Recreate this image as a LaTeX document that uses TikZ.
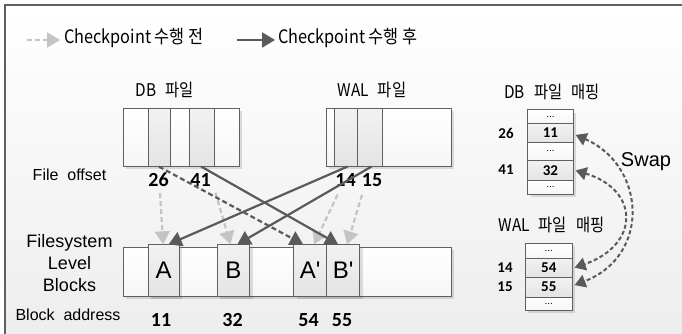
\documentclass[tikz,border=0pt]{standalone}
\usepackage{fontspec}
\setmainfont{Liberation Sans}
\newfontfamily\kr[FakeStretch=0.88]{Noto Sans CJK KR}
\newfontfamily\num{Carlito}
\usetikzlibrary{arrows.meta,shadows}
\definecolor{dk}{HTML}{5A5A5A}
\definecolor{lt}{HTML}{C4C4C4}
\definecolor{edge}{HTML}{606060}
\definecolor{bgb}{HTML}{EDEDED}
\definecolor{cg}{HTML}{E4E4E4}
\definecolor{cw}{HTML}{F6F6F6}
\tikzset{
  box/.style={draw=edge, line width=0.9pt, inner sep=0pt, anchor=north west},
  wcell/.style={box, top color=white, bottom color=cw},
  gcell/.style={box, top color=cg!50!white, bottom color=cg},
  shad/.style={drop shadow={shadow xshift=3pt, shadow yshift=-3pt, fill=black, opacity=0.12}},
  darr/.style={draw=dk, line width=2.2pt, -{Triangle[length=13pt,width=15pt]}},
  ddarr/.style={darr, dash pattern=on 5pt off 3pt},
  larr/.style={draw=lt, line width=2.2pt, dash pattern=on 5pt off 3pt, -{Triangle[length=13pt,width=15pt]}},
  swp/.style={draw=dk, line width=2pt, dash pattern=on 4pt off 2.5pt, {Triangle[length=11pt,width=13pt]}-{Triangle[length=11pt,width=13pt]}},
  bnum/.style={font=\num\bfseries\fontsize{20}{20}\selectfont, inner sep=0pt},
  snum/.style={font=\num\bfseries\fontsize{15}{15}\selectfont, inner sep=0pt},
  dots/.style={font=\fontsize{10}{10}\selectfont},
  lbl/.style={font=\kr\fontsize{17.5}{17.5}\selectfont, inner sep=0pt},
  leg/.style={font=\kr\fontsize{18.5}{18.5}\selectfont, inner sep=0pt, anchor=west},
  eng/.style={font=\fontsize{16}{16}\selectfont, inner sep=0pt},
  blk/.style={font=\fontsize{24}{24}\selectfont},
}
\newcommand\gap{\hspace{9pt}}
\begin{document}
\begin{tikzpicture}[x=1pt,y=-1pt]
\useasboundingbox (0,0) rectangle (682,334);
\fill[white] (0,0) rectangle (682,334);
\shade[top color=white, bottom color=bgb] (5,5) rectangle (690,340);
\draw[edge, line width=1.4pt] (5,340) -- (5,5) -- (690,5);

% legend
\coordinate (l1s) at (27,40);
\coordinate (l1e) at (60,40);
\draw[larr] (l1s) -- (l1e);
\node[leg] (leg1) at (64,38) {Checkpoint 수행 전};
\coordinate (l2s) at (237,40);
\coordinate (l2e) at (275,40);
\draw[darr] (l2s) -- (l2e);
\node[leg] (leg2) at (278,38) {Checkpoint 수행 후};

% titles
\node[lbl] (dbt) at (165,90) {DB\gap 파일};
\node[lbl] (walt) at (372,90) {WAL\gap 파일};

% DB file
\node[box, shad, fill=white, minimum width=116.3pt, minimum height=58pt] (dbbox) at (122.7,107.7) {};
\node[wcell, minimum width=25pt, minimum height=58pt] (db1) at (122.7,107.7) {};
\node[gcell, minimum width=22.6pt, minimum height=58pt] (db2) at (147.7,107.7) {};
\node[wcell, minimum width=19pt, minimum height=58pt] (db3) at (170.3,107.7) {};
\node[gcell, minimum width=25pt, minimum height=58pt] (db4) at (189.3,107.7) {};
\node[wcell, minimum width=24.7pt, minimum height=58pt] (db5) at (214.3,107.7) {};

% WAL file
\node[box, shad, fill=white, minimum width=124.7pt, minimum height=58pt] (walbox) at (326,107.7) {};
\node[wcell, minimum width=8.3pt, minimum height=58pt] (w1) at (326,107.7) {};
\node[gcell, minimum width=22.4pt, minimum height=58pt] (w2) at (334.3,107.7) {};
\node[gcell, minimum width=25.6pt, minimum height=58pt] (w3) at (356.7,107.7) {};
\node[wcell, minimum width=68.4pt, minimum height=58pt] (w4) at (382.3,107.7) {};

% file offsets
\node[eng] (fo) at (69.5,175) {File\ \ offset};
\node[bnum] (o26) at (158.5,180) {26};
\node[bnum] (o41) at (200.5,180) {41};
\node[bnum] (o14) at (345.5,180) {14};
\node[bnum] (o15) at (372,180) {15};

% filesystem blocks
\node[align=center, font=\fontsize{18}{22}\selectfont, inner sep=0pt] (fsl) at (69.5,263) {Filesystem\\Level\\Blocks};
\node[wcell, shad, minimum width=328pt, minimum height=49.3pt] (fs) at (122.7,246.7) {};
\node[gcell, shad, blk, minimum width=31pt, minimum height=51.4pt] (bA) at (147.7,244.3) {A};
\node[gcell, shad, blk, minimum width=32.6pt, minimum height=51.4pt] (bB) at (216.7,244.3) {B};
\node[gcell, shad, blk, minimum width=32.7pt, minimum height=51.4pt] (bA2) at (293.3,244.3) {A\textquotesingle};
\node[gcell, shad, blk, minimum width=33.3pt, minimum height=51.4pt] (bB2) at (326,244.3) {B\textquotesingle};

\node[eng] (ba) at (68,315) {Block\ \ address};
\node[bnum] (a11) at (161,320) {11};
\node[bnum] (a32) at (232.5,320) {32};
\node[bnum] (a54) at (308.5,320) {54};
\node[bnum] (a55) at (342,320) {55};

% before-checkpoint arrows (light)
\draw[larr] ([xshift=1.5pt,yshift=-6pt]o26.south) -- ([xshift=-0.5pt]bA.north);
\draw[larr] ([xshift=15pt,yshift=-6pt]o41.south) -- ([xshift=-3pt]bB.north);
\draw[larr] ([xshift=-8pt,yshift=-8pt]o14.south) -- ([xshift=4pt]bA2.north);
\draw[larr] ([xshift=-10pt,yshift=-8pt]o15.south) -- ([xshift=4pt]bB2.north);

% after-checkpoint arrows (dark)
\draw[ddarr] ([xshift=-0.5pt]db2.south) -- ([xshift=-7pt]bA2.north);
\draw[darr] ([xshift=-1pt]db4.south) -- ([xshift=-5pt]bB2.north);
\draw[darr] ([xshift=1.5pt]w2.south) -- ([xshift=5pt]bA.north);
\draw[darr] ([xshift=1.5pt]w3.south) -- ([xshift=4pt]bB.north);

% mapping tables
\node[lbl] (dbm) at (552,92) {DB\gap 파일\gap 매핑};
\node[box, shad, fill=white, minimum width=45.4pt, minimum height=84.7pt] (dbmt) at (527.3,109.3) {};
\node[wcell, dots, minimum width=45.4pt, minimum height=14pt] (r1) at (527.3,109.3) {...};
\node[gcell, snum, minimum width=45.4pt, minimum height=18.4pt] (m11) at (527.3,123.3) {11};
\node[wcell, dots, minimum width=45.4pt, minimum height=18.3pt] (r3) at (527.3,141.7) {...};
\node[gcell, snum, minimum width=45.4pt, minimum height=20pt] (m32) at (527.3,160) {32};
\node[wcell, dots, minimum width=45.4pt, minimum height=14pt] (r5) at (527.3,180) {...};
\node[snum] (p26) at (506,133) {26};
\node[snum] (p41) at (506,170) {41};

\node[lbl] (walm) at (551.5,225) {WAL\gap 파일\gap 매핑};
\node[box, shad, fill=white, minimum width=46.7pt, minimum height=67.3pt] (walmt) at (525,242.7) {};
\node[wcell, dots, minimum width=46.7pt, minimum height=15pt] (s1) at (525,242.7) {...};
\node[gcell, snum, minimum width=46.7pt, minimum height=19pt] (m54) at (525,257.7) {54};
\node[gcell, snum, minimum width=46.7pt, minimum height=20pt] (m55) at (525,276.7) {55};
\node[wcell, dots, minimum width=46.7pt, minimum height=13.3pt] (s4) at (525,296.7) {...};
\node[snum] (p14) at (505,268) {14};
\node[snum] (p15) at (505,287) {15};

% swap
\draw[swp] ([xshift=2pt,yshift=-2pt]m11.east) .. controls (645,165) and (652,255) .. ([xshift=2pt,yshift=2pt]m55.east);
\draw[swp] ([xshift=2pt]m32.east) .. controls (640,190) and (640,245) .. ([xshift=2pt]m54.east);
\node[font=\fontsize{20}{20}\selectfont, inner sep=0pt] (swap) at (646,162) {Swap};
\end{tikzpicture}
\end{document}
